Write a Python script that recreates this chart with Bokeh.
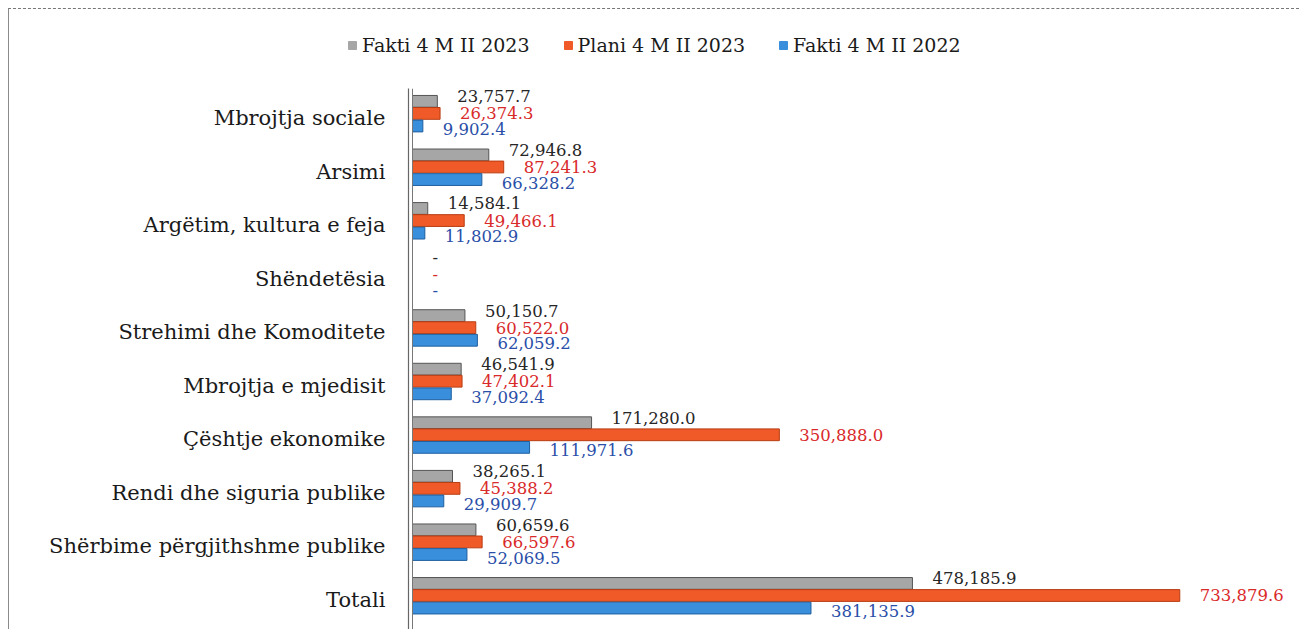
from bokeh.plotting import figure
from bokeh.layouts import column
from bokeh.models import ColumnDataSource, FactorRange, Range1d, Legend, LegendItem, Span
from bokeh.transform import dodge
from bokeh.core.properties import value
from bokeh.embed import file_html
from bokeh.resources import INLINE

categories = [
    "Mbrojtja sociale",
    "Arsimi",
    "Argëtim, kultura e feja",
    "Shëndetësia",
    "Strehimi dhe Komoditete",
    "Mbrojtja e mjedisit",
    "Çështje ekonomike",
    "Rendi dhe siguria publike",
    "Shërbime përgjithshme publike",
    "Totali",
]
fakti_2023 = [23757.7, 72946.8, 14584.1, 0.0, 50150.7, 46541.9, 171280.0, 38265.1, 60659.6, 478185.9]
plani_2023 = [26374.3, 87241.3, 49466.1, 0.0, 60522.0, 47402.1, 350888.0, 45388.2, 66597.6, 733879.6]
fakti_2022 = [9902.4, 66328.2, 11802.9, 0.0, 62059.2, 37092.4, 111971.6, 29909.7, 52069.5, 381135.9]
series_names = ["Fakti 4 M II 2023", "Plani 4 M II 2023", "Fakti 4 M II 2022"]


def fmt(v):
    return "-" if v == 0 else f"{v:,.1f}"


src = ColumnDataSource(dict(
    cat=categories,
    f23=fakti_2023, p23=plani_2023, f22=fakti_2022,
    lf23=[fmt(v) for v in fakti_2023],
    lp23=[fmt(v) for v in plani_2023],
    lf22=[fmt(v) for v in fakti_2022],
))

FONT = "DejaVu Serif"
colors = ["#a6a6a6", "#f05a28", "#3a8fdc"]
edges = ["#555555", "#b83c12", "#1f5f9f"]
label_colors = ["#262626", "#d92a2a", "#2a4fa8"]

# ---- legend strip (top) ----
p0 = figure(width=1290, height=66, x_range=Range1d(0, 1290), y_range=Range1d(0, 66),
            output_backend="svg", toolbar_location=None,
            min_border_left=0, min_border_right=0, min_border_top=0, min_border_bottom=0)
p0.frame_align = False
p0.axis.visible = False
p0.grid.visible = False
p0.outline_line_color = None
# legend-only renderers (their single key sits outside the visible range)
leg_src = ColumnDataSource(dict(y=[-100.0], l=[0.0], r=[1.0]))
leg_rs = []
for col, ec in zip(colors, edges):
    leg_rs.append(p0.hbar(y="y", left="l", right="r", height=1, source=leg_src,
                          fill_color=col, line_color=col))
legend = Legend(
    items=[LegendItem(label=n, renderers=[r]) for n, r in zip(series_names, leg_rs)],
    orientation="horizontal", location=(338, 19),
    glyph_width=10, glyph_height=10, label_height=22, label_standoff=5, spacing=33,
    padding=0, margin=0, border_line_color=None, background_fill_alpha=0,
    label_text_font=FONT, label_text_font_size="19px", label_text_color="#1a1a1a",
)
p0.add_layout(legend, "center")

# ---- main chart ----
p = figure(
    width=1290, height=554,
    y_range=FactorRange(factors=list(reversed(categories)), range_padding=0.05,
                        range_padding_units="absolute"),
    x_range=Range1d(-3826, 848400),
    output_backend="svg", toolbar_location=None,
    min_border_left=399, min_border_top=13, min_border_bottom=0, min_border_right=0,
)
p.frame_align = False
p.outline_line_color = None
p.grid.visible = False
p.xaxis.visible = False

yax = p.yaxis[0]
yax.axis_line_color = "#666666"
yax.axis_line_width = 1.2
yax.major_tick_line_color = None
yax.minor_tick_line_color = None
yax.major_tick_out = 0
yax.major_tick_in = 0
yax.minor_tick_out = 0
yax.major_label_standoff = 23
yax.major_label_text_font = FONT
yax.major_label_text_font_size = "21px"
yax.major_label_text_color = "#1a1a1a"

p.add_layout(Span(location=0, dimension="height", line_color="#777777", line_width=1))

offsets = [0.31, 0.085, -0.15]
fields = ["f23", "p23", "f22"]
lfields = ["lf23", "lp23", "lf22"]
yoffs = [-5, 0, 3]

for fld, lf, col, ec, lc, off, yo in zip(fields, lfields, colors, edges, label_colors, offsets, yoffs):
    p.hbar(y=dodge("cat", off, range=p.y_range), right=fld, left=0, height=0.22,
           source=src, fill_color=col, line_color=ec, line_width=1)
    p.text(x=fld, y=dodge("cat", off, range=p.y_range), text=lf, source=src,
           x_offset=20, y_offset=yo, text_baseline="middle", text_align="left",
           text_font=value(FONT), text_font_size="16.5px", text_color=lc)

layout = column(p0, p, spacing=0)
layout.styles = {
    "margin-left": "8px", "margin-top": "8px",
    "border-top": "1px dashed #777777", "border-left": "1px solid #8a8a8a",
}

open("out.html", "w").write(file_html(layout, INLINE))
